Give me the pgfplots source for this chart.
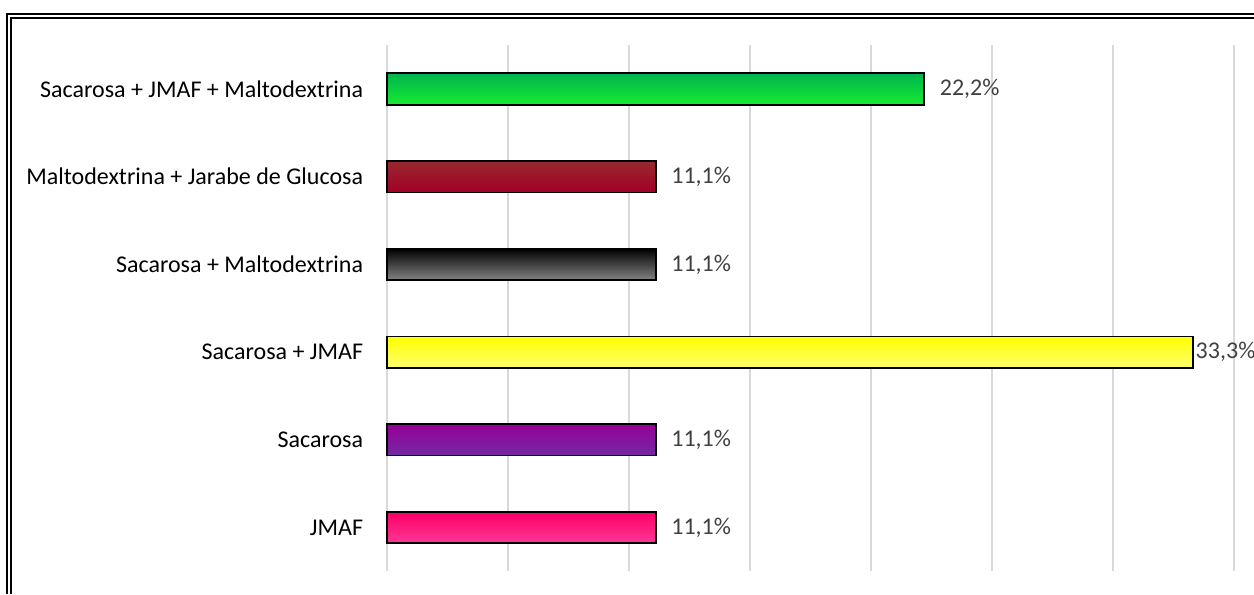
\documentclass[border=0pt]{standalone}
\usepackage{fontspec}
\setmainfont{Carlito}
\usepackage{pgfplots}
\pgfplotsset{compat=1.18}

\definecolor{labgray}{RGB}{64,64,64}
\definecolor{gridgray}{RGB}{217,217,217}

% bar gradients, top -> bottom
\definecolor{grnT}{RGB}{0,180,78}
\definecolor{grnB}{RGB}{22,235,48}
\definecolor{marT}{RGB}{152,40,48}
\definecolor{marB}{RGB}{162,0,36}
\definecolor{blkT}{RGB}{0,0,0}
\definecolor{blkB}{RGB}{132,132,132}
\definecolor{yelT}{RGB}{255,255,0}
\definecolor{yelB}{RGB}{255,255,110}
\definecolor{purT}{RGB}{150,0,150}
\definecolor{purB}{RGB}{115,40,162}
\definecolor{pnkT}{RGB}{255,0,102}
\definecolor{pnkB}{RGB}{255,55,150}

\pgfplotsset{
  onebar/.style={xbar, bar width=23.5pt, bar shift=0pt, draw=black, line width=1.3pt,
    nodes near coords style={font=\fontsize{18}{21}\selectfont, text=labgray,
      anchor=west, inner sep=0pt, xshift=11pt}},
}

\begin{document}
\begin{tikzpicture}[x=0.75pt,y=0.75pt]
\useasboundingbox (0,0) rectangle (1254,594);
% double frame (right and bottom run off the picture)
\draw[line width=1.6pt] (7,0) -- (7,580) -- (1254,580);
\draw[line width=1.6pt] (11,0) -- (11,576) -- (1254,576);

\begin{axis}[
  at={(290.5pt,16.95pt)}, anchor=south west,
  scale only axis, width=635pt, height=394.7pt,
  xmin=0, xmax=35, ymin=-0.5, ymax=5.5,
  clip=false,
  xtick={0,5,...,35}, xticklabels={},
  xmajorgrids, grid style={gridgray, line width=1.5pt},
  ytick={0,1,2,3,4,5},
  yticklabels={JMAF, Sacarosa, Sacarosa + JMAF, Sacarosa + Maltodextrina,
    Maltodextrina + Jarabe de Glucosa, Sacarosa + JMAF + Maltodextrina},
  yticklabel style={font=\fontsize{18}{21}\selectfont, text=black,
    anchor=east, inner sep=0pt, xshift=-18pt},
  axis line style={draw=none},
  major tick length=0pt,
]

\addplot[onebar, top color=pnkT, bottom color=pnkB, nodes near coords={11,1\%}]
  coordinates {(11.1,0)};
\addplot[onebar, top color=purT, bottom color=purB, nodes near coords={11,1\%}]
  coordinates {(11.1,1)};
\addplot[onebar, top color=yelT, bottom color=yelB, nodes near coords={33,3\%},
  nodes near coords style={xshift=-9.5pt}]
  coordinates {(33.3,2)};
\addplot[onebar, top color=blkT, bottom color=blkB, nodes near coords={11,1\%}]
  coordinates {(11.1,3)};
\addplot[onebar, top color=marT, bottom color=marB, nodes near coords={11,1\%}]
  coordinates {(11.1,4)};
\addplot[onebar, top color=grnT, bottom color=grnB, nodes near coords={22,2\%}]
  coordinates {(22.2,5)};

\end{axis}
\end{tikzpicture}
\end{document}
